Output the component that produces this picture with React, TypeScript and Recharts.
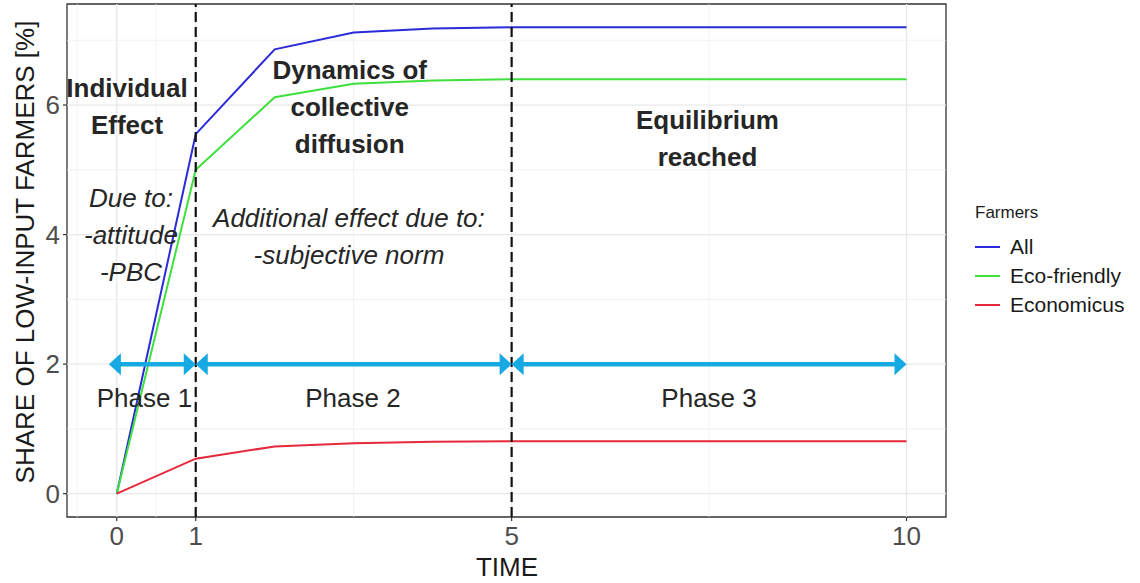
import React from 'react';
import { LineChart, Line, XAxis, YAxis, ReferenceLine, ReferenceDot, ReferenceArea } from 'recharts';

const time = [0, 1, 2, 3, 4, 5, 6, 7, 8, 9, 10];
const allFarmers = [0, 5.55, 6.86, 7.12, 7.18, 7.2, 7.2, 7.2, 7.2, 7.2, 7.2];
const ecoFriendly = [0, 5.0, 6.12, 6.33, 6.38, 6.4, 6.4, 6.4, 6.4, 6.4, 6.4];
const economicus = [0, 0.54, 0.73, 0.78, 0.8, 0.81, 0.81, 0.81, 0.81, 0.81, 0.81];

const xTicks = [0, 1, 5, 10];
const yTicks = [0, 2, 4, 6];
const xMinor = [-0.5, 0.5, 3, 7.5];
const yMinor = [1, 3, 5, 7];
const xDomain = [-0.63, 10.5];
const yDomain = [-0.36, 7.56];

const phaseBreaks = [1, 5];
const phaseArrows = [
  [-0.1, 1],
  [1, 5],
  [5, 10],
];
const arrowLevel = 2;

const series = [
  { key: 'All', values: allFarmers, color: '#2b2bd9' },
  { key: 'Eco-friendly', values: ecoFriendly, color: '#3ee03e' },
  { key: 'Economicus', values: economicus, color: '#e6283a' },
];

// annotation: x, y of the first line (data units)
const notes = [
  { x: 0.13, y: 6.26, lines: ['Individual', 'Effect'], bold: true },
  { x: 2.95, y: 6.54, lines: ['Dynamics of', 'collective', 'diffusion'], bold: true },
  { x: 7.48, y: 5.77, lines: ['Equilibrium', 'reached'], bold: true },
  { x: 0.18, y: 4.57, lines: ['Due to:', '-attitude', '-PBC'], italic: true },
  { x: 2.94, y: 4.26, lines: ['Additional effect due to:', '-subjective norm'], italic: true },
  { x: 0.35, y: 1.47, lines: ['Phase 1'] },
  { x: 2.99, y: 1.47, lines: ['Phase 2'] },
  { x: 7.5, y: 1.47, lines: ['Phase 3'] },
];

const data = time.map((t, i) => {
  const row: any = { time: t };
  series.forEach((s) => (row[s.key] = s.values[i]));
  return row;
});

const FONT = '"Liberation Sans", Arial, Helvetica, sans-serif';
const ARROW_COLOR = '#17a9e1';

const arrowShape = (props: any) => {
  const { x1, y1, x2, y2 } = props;
  const len = 12;
  const hw = 11;
  const left = Math.min(x1, x2);
  const right = Math.max(x1, x2);
  const y = y1;
  return (
    <g>
      <line x1={left + len - 1} y1={y} x2={right - len + 1} y2={y2} stroke={ARROW_COLOR} strokeWidth={4.5} />
      <polygon points={`${left},${y} ${left + len},${y - hw} ${left + len},${y + hw}`} fill={ARROW_COLOR} />
      <polygon points={`${right},${y} ${right - len},${y - hw} ${right - len},${y + hw}`} fill={ARROW_COLOR} />
    </g>
  );
};

const noteShape = (note: any) => (props: any) => {
  const { cx, cy } = props;
  return (
    <text
      x={cx}
      y={cy}
      textAnchor="middle"
      dominantBaseline="central"
      fontFamily={FONT}
      fontSize={26}
      fontWeight={note.bold ? 'bold' : 'normal'}
      fontStyle={note.italic ? 'italic' : 'normal'}
      fill="#262626"
    >
      {note.lines.map((l: string, i: number) => (
        <tspan key={i} x={cx} dy={i === 0 ? 0 : 37}>
          {l}
        </tspan>
      ))}
    </text>
  );
};

const YTitle = (props: any) => (
  <text
    x={25}
    y={252}
    transform="rotate(-90 25 252)"
    textAnchor="middle"
    dominantBaseline="central"
    fontFamily={FONT}
    fontSize={26}
    fill="#1a1a1a"
  >
    SHARE OF LOW-INPUT FARMERS [%]
  </text>
);

const XTitle = (props: any) => (
  <text
    x={507}
    y={567}
    textAnchor="middle"
    dominantBaseline="central"
    fontFamily={FONT}
    fontSize={26}
    fill="#1a1a1a"
  >
    TIME
  </text>
);

export default function App() {
  return (
    <div style={{ position: 'absolute', left: 0, top: 0, width: 1140, height: 583, background: '#fff' }}>
      <LineChart
        width={1140}
        height={583}
        data={data}
        margin={{ top: 4, right: 194, bottom: 0, left: 0 }}
      >
        {xMinor.map((v) => (
          <ReferenceLine key={'xm' + v} x={v} stroke="#efefef" strokeWidth={0.8} />
        ))}
        {yMinor.map((v) => (
          <ReferenceLine key={'ym' + v} y={v} stroke="#efefef" strokeWidth={0.8} />
        ))}
        {xTicks.map((v) => (
          <ReferenceLine key={'xM' + v} x={v} stroke="#e8e8e8" strokeWidth={1.3} />
        ))}
        {yTicks.map((v) => (
          <ReferenceLine key={'yM' + v} y={v} stroke="#e8e8e8" strokeWidth={1.3} />
        ))}
        <XAxis
          dataKey="time"
          type="number"
          domain={xDomain}
          ticks={xTicks}
          allowDataOverflow
          height={66}
          axisLine={false}
          tickSize={4}
          tickMargin={6}
          tickLine={{ stroke: '#333', strokeWidth: 1.2 }}
          tick={{ fontSize: 26, fill: '#4d4d4d', fontFamily: FONT }}
          label={<XTitle />}
        />
        <YAxis
          type="number"
          domain={yDomain}
          ticks={yTicks}
          allowDataOverflow
          width={67}
          axisLine={false}
          tickSize={4}
          tickMargin={3}
          tickLine={{ stroke: '#333', strokeWidth: 1.2 }}
          tick={{ fontSize: 26, fill: '#4d4d4d', fontFamily: FONT }}
          label={<YTitle />}
        />
        {series.map((s) => (
          <Line
            key={s.key}
            dataKey={s.key}
            type="linear"
            stroke={s.color}
            strokeWidth={2}
            dot={false}
            activeDot={false}
            isAnimationActive={false}
          />
        ))}
        {phaseBreaks.map((v) => (
          <ReferenceLine key={'pb' + v} x={v} stroke="#111" strokeWidth={2.2} strokeDasharray="10 5" />
        ))}
        {phaseArrows.map((seg, i) => (
          <ReferenceLine
            key={'ar' + i}
            segment={[
              { x: seg[0], y: arrowLevel },
              { x: seg[1], y: arrowLevel },
            ]}
            shape={arrowShape}
          />
        ))}
        {notes.map((n, i) => (
          <ReferenceDot key={'n' + i} x={n.x} y={n.y} r={0} shape={noteShape(n)} />
        ))}
        <ReferenceArea
          x1={xDomain[0]}
          x2={xDomain[1]}
          y1={yDomain[0]}
          y2={yDomain[1]}
          fill="none"
          stroke="#333"
          strokeWidth={1.3}
          ifOverflow="visible"
        />
      </LineChart>
      <div style={{ position: 'absolute', left: 975, top: 202, fontFamily: FONT, color: '#1a1a1a' }}>
        <div style={{ fontSize: 17, height: 22, lineHeight: '22px', marginBottom: 8 }}>Farmers</div>
        {series.map((s) => (
          <div key={s.key} style={{ display: 'flex', alignItems: 'center', height: 29 }}>
            <div style={{ width: 25, height: 2, background: s.color, marginRight: 10 }} />
            <span style={{ fontSize: 21, lineHeight: '29px' }}>{s.key}</span>
          </div>
        ))}
      </div>
    </div>
  );
}
